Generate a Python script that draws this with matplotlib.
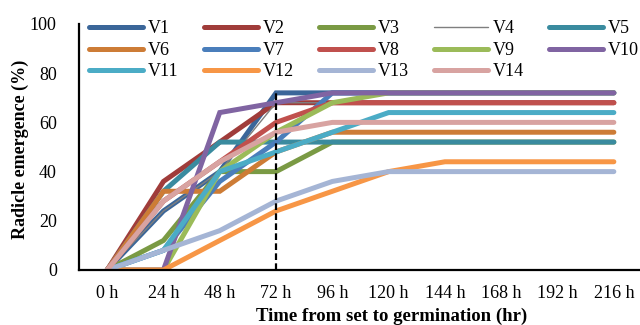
import matplotlib
matplotlib.use('Agg')
import matplotlib.pyplot as plt
import numpy as np

plt.rcParams['font.family'] = ['Liberation Serif', 'DejaVu Serif']

# ── data ────────────────────────────────────────────────────────────────────
hours = ['0 h', '24 h', '48 h', '72 h', '96 h', '120 h', '144 h', '168 h', '192 h', '216 h']

V1 = [0, 24, 40, 72, 72, 72, 72, 72, 72, 72]
V2 = [0, 36, 52, 68, 68, 68, 68, 68, 68, 68]
V3 = [0, 12, 40, 40, 52, 52, 52, 52, 52, 52]
V4 = [0, 24, 40, 68, 68, 68, 68, 68, 68, 68]
V5 = [0, 32, 52, 52, 52, 52, 52, 52, 52, 52]
V6 = [0, 32, 32, 48, 56, 56, 56, 56, 56, 56]
V7 = [0, 8, 36, 52, 72, 72, 72, 72, 72, 72]
V8 = [0, 28, 44, 60, 68, 68, 68, 68, 68, 68]
V9 = [0, 0, 40, 56, 68, 72, 72, 72, 72, 72]
V10 = [0, 0, 64, 68, 72, 72, 72, 72, 72, 72]
V11 = [0, 8, 40, 48, 56, 64, 64, 64, 64, 64]
V12 = [0, 0, 12, 24, 32, 40, 44, 44, 44, 44]
V13 = [0, 8, 16, 28, 36, 40, 40, 40, 40, 40]
V14 = [0, 28, 44, 56, 60, 60, 60, 60, 60, 60]

names = ['V1', 'V2', 'V3', 'V4', 'V5', 'V6', 'V7', 'V8', 'V9', 'V10', 'V11', 'V12', 'V13', 'V14']
series = [V1, V2, V3, V4, V5, V6, V7, V8, V9, V10, V11, V12, V13, V14]
marker_hour = 3  # index of the 72 h guide line
guide_top = 72

colors = ['#3b6699', '#a03c3a', '#7a9a44', '#7f7f7f', '#3a8b9f', '#cd7c36', '#4a7ebb',
          '#c0504d', '#9bbb59', '#8064a2', '#4bacc6', '#f79646', '#a5b5d5', '#d8a3a1']

fig = plt.figure(figsize=(6.4, 3.25), dpi=100)
ax = fig.add_axes([79 / 640, 55 / 325, 563 / 640, 246 / 325])

x = np.arange(len(hours))
handles = []
for name, vals, c in zip(names, series, colors):
    lw = 1.0 if name == 'V4' else 3.6
    h, = ax.plot(x, vals, color=c, lw=lw, solid_capstyle='round', solid_joinstyle='miter',
                 label=name)
    handles.append(h)

ax.vlines(marker_hour, 0, guide_top, colors='black', linestyles=(0, (3, 1.5)), lw=1.6, zorder=5)

ax.set_xlim(-0.5, len(hours) - 0.5)
ax.set_ylim(0, 100)
ax.set_xticks(x)
ax.set_xticklabels(hours)
ax.set_yticks(np.arange(0, 101, 20))
ax.tick_params(length=0, labelsize=13)
ax.tick_params(axis='x', pad=11)
ax.tick_params(axis='y', pad=16)
for s in ('top', 'right'):
    ax.spines[s].set_visible(False)
for s in ('left', 'bottom'):
    ax.spines[s].set_linewidth(1.6)

ax.set_xlabel('Time from set to germination (hr)', fontsize=13.5, weight='bold')
ax.xaxis.set_label_coords((392 - 79) / 563, -38 / 246)
ax.set_ylabel('Radicle emergence (%)', fontsize=13, weight='bold')
ax.yaxis.set_label_coords(-50 / 563, 0.49)

# legend fills row by row in the reference -> reorder for matplotlib's column fill
ncol = 5
order = [i for c in range(ncol) for i in range(c, len(handles), ncol)]
ax.legend([handles[i] for i in order], [names[i] for i in order], ncol=ncol,
          loc='upper left', bbox_to_anchor=(0.018, 1.015), frameon=False,
          fontsize=13, handlelength=3.0, handletextpad=0.25, columnspacing=1.4,
          labelspacing=0.25, borderpad=0, borderaxespad=0)

fig.savefig('out.png', dpi=100)
